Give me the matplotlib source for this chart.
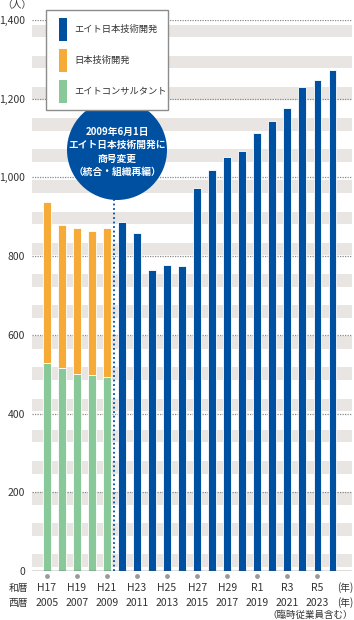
import matplotlib
matplotlib.use("Agg")
import matplotlib.pyplot as plt
from matplotlib import transforms
from matplotlib.patches import Circle, Rectangle

plt.rcParams["font.family"] = ["Noto Sans CJK JP", "DejaVu Sans"]

# data (persons, incl. temporary staff)
years_pre = [2005, 2006, 2007, 2008, 2009]
consult_pre = [528, 517, 501, 499, 492]
nihon_pre = [410, 362, 370, 365, 380]
years_post = list(range(2010, 2025))
eight_post = [888, 860, 765, 777, 776, 972, 1019, 1053, 1067, 1112, 1143, 1177, 1230, 1248, 1273]

label_years = [2005, 2007, 2009, 2011, 2013, 2015, 2017, 2019, 2021, 2023]
wareki = ["H17", "H19", "H21", "H23", "H25", "H27", "H29", "R1", "R3", "R5"]
yticks = [0, 200, 400, 600, 800, 1000, 1200, 1400]

legend_names = ["エイト日本技術開発", "日本技術開発", "エイトコンサルタント"]
note_lines = ["2009年6月1日", "エイト日本技術開発に", "商号変更", "（統合・組織再編）"]

BLUE = "#0050a2"
ORANGE = "#f6ab38"
GREEN = "#89c899"
BAND = "#e8e5e2"
TEXT = "#333333"

W, H = 354, 620
fig = plt.figure(figsize=(W / 100, H / 100), dpi=100)
ax = fig.add_axes([32 / W, 49 / H, 320 / W, 551 / H])
ax.set_xlim(2004.02, 2025.3)
ax.set_ylim(0, 1400)


def fx(px):
    return px / W


def fy(py):
    return 1 - py / H


# striped background
b = 10.0
while b < 1400:
    ax.axhspan(b, b + 32, color=BAND, lw=0, zorder=0)
    b += 79.2

for v in yticks[1:]:
    ax.axhline(v, color="#8a8a8a", lw=0.9, ls=(0, (1, 1)), zorder=1)
ax.axhline(0, color="#555555", lw=1.0, zorder=4)

bw = 0.52
ax.bar(years_pre, consult_pre, width=bw, color=GREEN, edgecolor="white", lw=0.6, zorder=3)
ax.bar(years_pre, nihon_pre, bottom=consult_pre, width=bw, color=ORANGE,
       edgecolor="white", lw=0.6, zorder=3)
ax.bar(years_post, eight_post, width=bw, color=BLUE, edgecolor="white", lw=0.6, zorder=3)

ax.plot([2009.5, 2009.5], [0, 945], color=BLUE, lw=1.3, ls=(0, (1, 1.5)), zorder=4)

for s in ax.spines.values():
    s.set_visible(False)
ax.set_yticks(yticks)
ax.set_yticklabels([f"{v:,}" for v in yticks])
ax.tick_params(axis="y", length=0, pad=5, labelsize=7.5, labelcolor=TEXT)
ax.set_xticks([])

fig.text(fx(17), fy(5), "（人）", ha="center", va="center", fontsize=7, color=TEXT)

# bottom labels
tr = transforms.blended_transform_factory(ax.transData, fig.transFigure)
ax.scatter(label_years, [fy(576)] * len(label_years), s=6, color="#9a9a9a",
           transform=tr, clip_on=False, zorder=5)
for yr, wa in zip(label_years, wareki):
    ax.text(yr, fy(588), wa, transform=tr, ha="center", va="center", fontsize=7.5, color=TEXT)
    ax.text(yr, fy(603), str(yr), transform=tr, ha="center", va="center", fontsize=7.5, color=TEXT)
fig.text(fx(18), fy(588), "和暦", ha="center", va="center", fontsize=7, color=TEXT)
fig.text(fx(18), fy(603), "西暦", ha="center", va="center", fontsize=7, color=TEXT)
fig.text(fx(353), fy(588), "(年)", ha="right", va="center", fontsize=7, color=TEXT)
fig.text(fx(353), fy(603), "(年)", ha="right", va="center", fontsize=7, color=TEXT)
fig.text(fx(353), fy(615), "（臨時従業員含む）", ha="right", va="center", fontsize=6.8, color=TEXT)

# note circle
fig.add_artist(Circle((117 / 100, (H - 150) / 100), 0.50, transform=fig.dpi_scale_trans,
                      color=BLUE, lw=0, zorder=6))
for i, line in enumerate(note_lines):
    fig.text(fx(117), fy(132 + 13.3 * i), line, ha="center", va="center", fontsize=7,
             color="white", fontweight="bold", zorder=7)

# legend box
fig.add_artist(Rectangle((fx(46), fy(110)), fx(122), 100 / H, transform=fig.transFigure,
                         facecolor="white", edgecolor="#8c8c8c", lw=1.0, zorder=8))
for i, (name, col) in enumerate(zip(legend_names, [BLUE, ORANGE, GREEN])):
    cy = 29.5 + 31 * i
    fig.add_artist(Rectangle((fx(59), fy(cy + 11.5)), fx(8), 23 / H, transform=fig.transFigure,
                             facecolor=col, lw=0, zorder=9))
    fig.text(fx(74), fy(cy), name, ha="left", va="center", fontsize=6.7, color=TEXT, zorder=9)

fig.savefig("out.png", dpi=100)
